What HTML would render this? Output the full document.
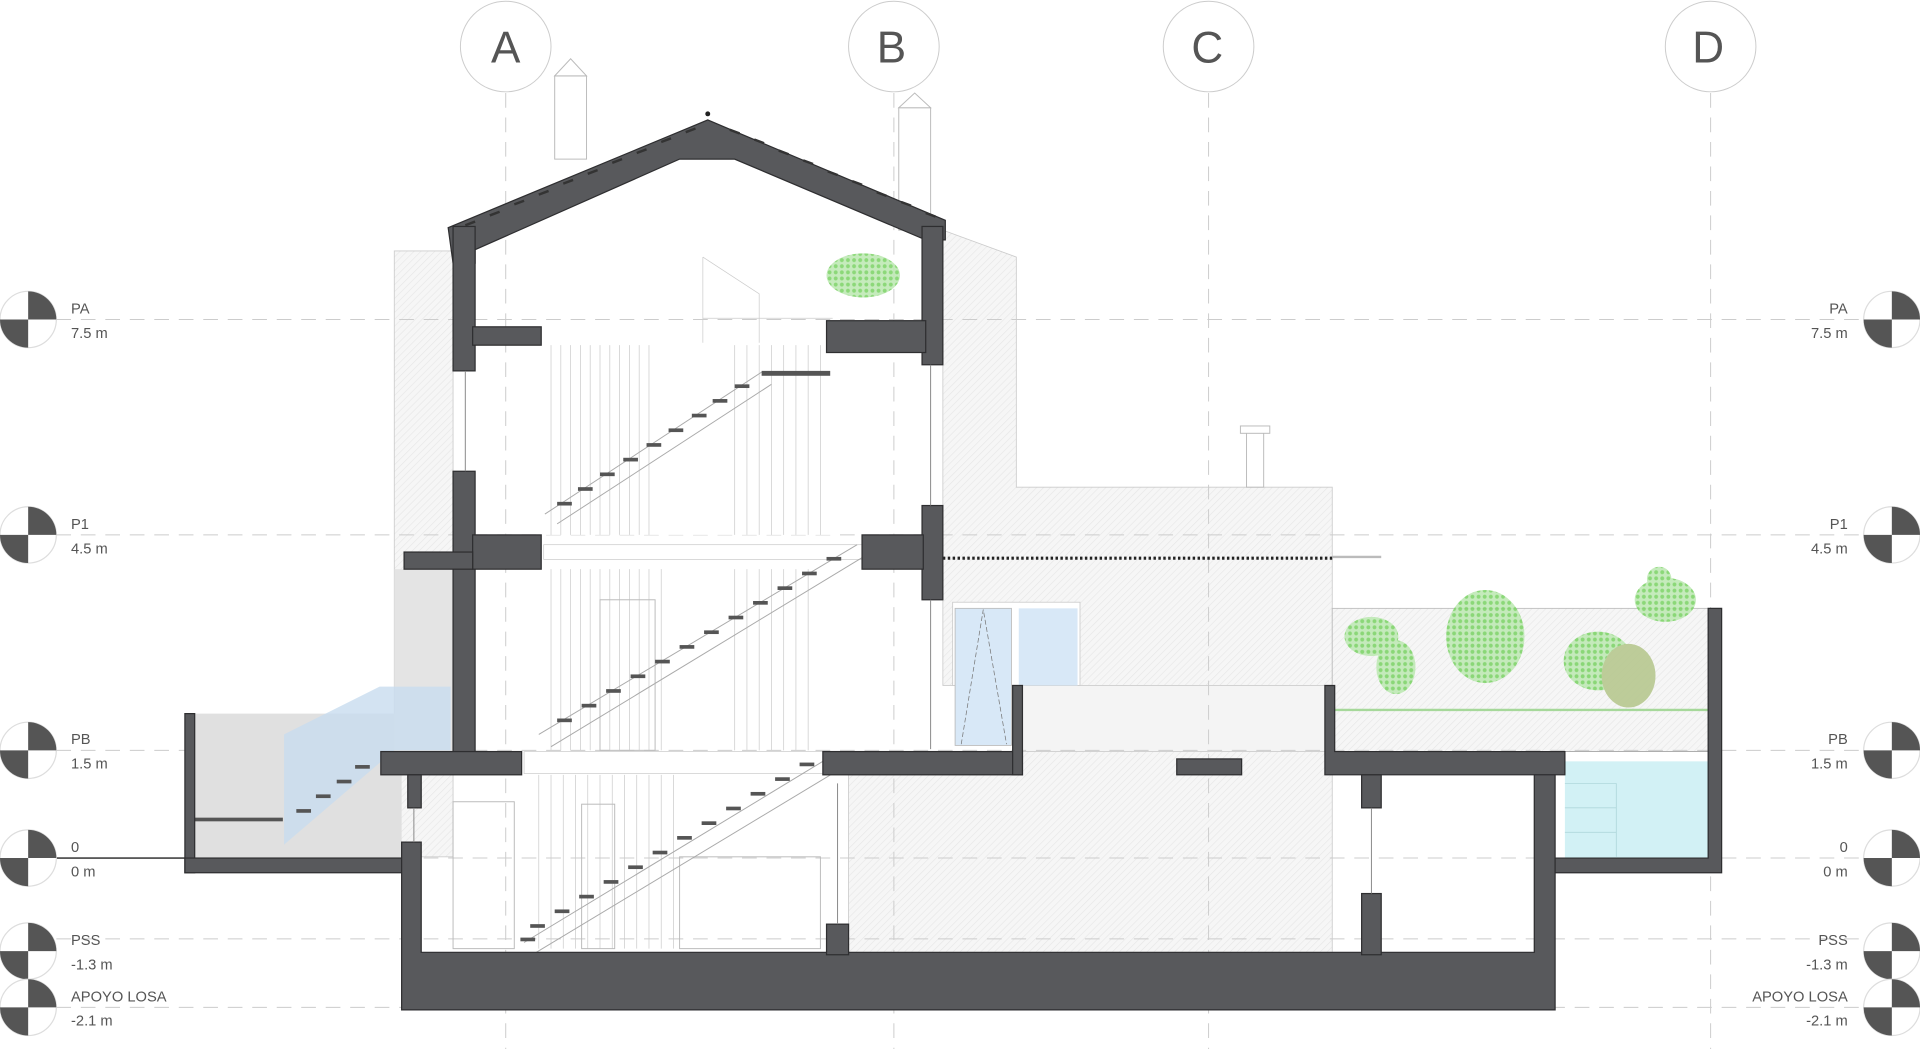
<!DOCTYPE html>
<html><head><meta charset="utf-8"><style>
html,body{margin:0;padding:0;background:#fff;width:1920px;height:1049px;overflow:hidden}
svg{display:block}
text{font-family:"Liberation Sans",sans-serif;fill:#555}
</style></head><body>
<svg width="1920" height="1049" viewBox="0 0 1568 857" preserveAspectRatio="none">
<defs>
<pattern id="h" width="4" height="4" patternUnits="userSpaceOnUse" patternTransform="rotate(45)"><rect width="4" height="4" fill="#f6f6f6"/><line x1="0" y1="0" x2="0" y2="4" stroke="#e6e6e6" stroke-width="1"/></pattern>
<pattern id="g" width="5" height="5" patternUnits="userSpaceOnUse"><rect width="5" height="5" fill="#bfe9b5"/><circle cx="2.5" cy="2.5" r="1.6" fill="#7fd46a"/></pattern>
</defs>
<!-- background facades -->
<rect x="322" y="205" width="48" height="495" fill="url(#h)" stroke="#ccc" stroke-width="0.7"/>
<polygon points="770,188 830,210 830,398 1088,398 1088,780 693,780 693,633 835,633 835,560 770,560" fill="url(#h)" stroke="#ccc" stroke-width="0.7"/>
<rect x="1088" y="497" width="307" height="117" fill="url(#h)" stroke="#bbb" stroke-width="0.7"/>
<rect x="835" y="560" width="247" height="54" fill="#f4f4f4" stroke="#ccc" stroke-width="0.7"/>
<!-- chimneys -->
<g fill="#fff" stroke="#bbb" stroke-width="0.8">
<rect x="453" y="62" width="26" height="68"/><polygon points="453,62 466,48 479,62"/>
<rect x="734" y="88" width="26" height="100"/><polygon points="734,88 747,76 760,88"/>
<rect x="1018" y="352" width="14" height="46"/><rect x="1013" y="348" width="24" height="6"/>
</g>
<!-- grid lines -->
<g stroke="#ccc" stroke-width="0.8" stroke-dasharray="12,8">
<line x1="413" y1="76" x2="413" y2="857"/><line x1="730" y1="76" x2="730" y2="857"/>
<line x1="987" y1="76" x2="987" y2="857"/><line x1="1397" y1="76" x2="1397" y2="857"/>
<line x1="46" y1="261" x2="1522" y2="261"/><line x1="46" y1="437" x2="1522" y2="437"/>
<line x1="46" y1="613" x2="1522" y2="613"/><line x1="46" y1="701" x2="1522" y2="701"/>
<line x1="46" y1="767" x2="1522" y2="767"/><line x1="46" y1="823" x2="1522" y2="823"/>
</g>
<g fill="#fff" stroke="#ccc" stroke-width="0.8">
<circle cx="413" cy="38" r="37"/><circle cx="730" cy="38" r="37"/><circle cx="987" cy="38" r="37"/><circle cx="1397" cy="38" r="37"/>
</g>
<g font-size="36" text-anchor="middle"><text x="413" y="51">A</text><text x="728" y="51">B</text><text x="986" y="51">C</text><text x="1395" y="51">D</text></g>
<!-- interior stair area -->
<rect x="444" y="282" width="235" height="155" fill="#fff"/>
<g stroke="#ccc" stroke-width="0.6" fill="none">
<path d="M450 282V437M458 282V437M466 282V437M474 282V437M482 282V437M490 282V437M498 282V437M506 282V437M514 282V437M522 282V437M530 282V437M600 282V437M610 282V437M620 282V437M630 282V437M640 282V437M650 282V437M660 282V437M670 282V437"/>
<path d="M450 465V613M458 465V613M466 465V613M474 465V613M482 465V613M490 465V613M498 465V613M506 465V613M514 465V613M522 465V613M530 465V613M540 465V613M600 465V613M610 465V613M620 465V613M630 465V613M640 465V613M650 465V613M660 465V613"/>
<path d="M440 633V775M450 633V775M460 633V775M470 633V775M480 633V775M490 633V775M500 633V775M510 633V775M520 633V775M530 633V775M540 633V775M550 633V775"/>
<path d="M574 210V280M574 210L620 240V280M574 260H680"/>
</g>
<rect x="444" y="445" width="262" height="12" fill="#fff" stroke="#ccc" stroke-width="0.6"/>
<rect x="428" y="614" width="245" height="18" fill="#fff" stroke="#ccc" stroke-width="0.6"/>
<g fill="none" stroke="#bbb" stroke-width="0.8">
<rect x="370" y="655" width="50" height="120"/><rect x="475" y="657" width="27" height="118"/><rect x="555" y="700" width="115" height="75"/>
<rect x="490" y="490" width="45" height="123"/>
</g>
<!-- stairs -->
<g stroke="#aaa" stroke-width="0.8" fill="none">
<line x1="445" y1="420" x2="622" y2="304"/><line x1="455" y1="428" x2="630" y2="314"/>
<line x1="440" y1="600" x2="700" y2="445"/><line x1="450" y1="610" x2="705" y2="455"/>
<line x1="428" y1="770" x2="672" y2="622"/><line x1="438" y1="778" x2="680" y2="632"/>
</g>
<g fill="#555">
<rect x="622" y="303" width="56" height="4"/>
<rect x="600" y="314" width="12" height="3"/><rect x="582" y="326" width="12" height="3"/><rect x="565" y="338" width="12" height="3"/><rect x="546" y="350" width="12" height="3"/><rect x="528" y="362" width="12" height="3"/><rect x="509" y="374" width="12" height="3"/><rect x="490" y="386" width="12" height="3"/><rect x="472" y="398" width="12" height="3"/><rect x="455" y="410" width="12" height="3"/>
<rect x="675" y="455" width="12" height="3"/><rect x="655" y="467" width="12" height="3"/><rect x="635" y="479" width="12" height="3"/><rect x="615" y="491" width="12" height="3"/><rect x="595" y="503" width="12" height="3"/><rect x="575" y="515" width="12" height="3"/><rect x="555" y="527" width="12" height="3"/><rect x="535" y="539" width="12" height="3"/><rect x="515" y="551" width="12" height="3"/><rect x="495" y="563" width="12" height="3"/><rect x="475" y="575" width="12" height="3"/><rect x="455" y="587" width="12" height="3"/>
<rect x="653" y="623" width="12" height="3"/><rect x="633" y="635" width="12" height="3"/><rect x="613" y="647" width="12" height="3"/><rect x="593" y="659" width="12" height="3"/><rect x="573" y="671" width="12" height="3"/><rect x="553" y="683" width="12" height="3"/><rect x="533" y="695" width="12" height="3"/><rect x="513" y="707" width="12" height="3"/><rect x="493" y="719" width="12" height="3"/><rect x="473" y="731" width="12" height="3"/><rect x="453" y="743" width="12" height="3"/><rect x="433" y="755" width="12" height="3"/><rect x="425" y="766" width="12" height="3"/>
</g>
<!-- left terrace -->
<rect x="159" y="583" width="169" height="118" fill="#e0e0e0"/>
<rect x="322" y="465" width="48" height="150" fill="#e4e4e4"/>
<polygon points="232,600 310,561 368,561 368,613 322,613 232,690" fill="#c8dcef" opacity="0.8"/>
<rect x="159" y="668" width="72" height="3" fill="#555"/>
<g fill="#555"><rect x="290" y="625" width="12" height="3"/><rect x="275" y="637" width="12" height="3"/><rect x="258" y="649" width="12" height="3"/><rect x="242" y="661" width="12" height="3"/></g>
<line x1="0" y1="701" x2="151" y2="701" stroke="#222" stroke-width="1.2"/>
<!-- blue windows -->
<rect x="778" y="492" width="104" height="68" fill="#fff" stroke="#ccc" stroke-width="0.7"/>
<rect x="780" y="497" width="46" height="112" fill="#d8e8f7" stroke="#bbb" stroke-width="0.7"/>
<rect x="832" y="497" width="48" height="63" fill="#d8e8f7"/>
<polyline points="785,608 803,498 822,608" fill="none" stroke="#777" stroke-width="0.6" stroke-dasharray="4,2"/>
<!-- garden -->
<g fill="url(#g)" opacity="0.9">
<ellipse cx="1120" cy="520" rx="22" ry="16"/><ellipse cx="1140" cy="545" rx="16" ry="22"/>
<ellipse cx="1213" cy="520" rx="32" ry="38"/>
<ellipse cx="1305" cy="540" rx="28" ry="24"/>
<ellipse cx="1330" cy="552" rx="22" ry="26" fill="#b7c890"/>
<ellipse cx="1360" cy="490" rx="25" ry="18"/><ellipse cx="1355" cy="473" rx="10" ry="10"/>
<ellipse cx="705" cy="225" rx="30" ry="18"/>
</g>
<line x1="1090" y1="580" x2="1395" y2="580" stroke="#a6d89a" stroke-width="2"/>
<!-- pool -->
<rect x="1278" y="622" width="117" height="79" fill="#d2f1f5"/>
<g stroke="#b0d8dc" stroke-width="0.7"><line x1="1278" y1="640" x2="1320" y2="640"/><line x1="1278" y1="660" x2="1320" y2="660"/><line x1="1278" y1="680" x2="1320" y2="680"/><line x1="1320" y1="640" x2="1320" y2="700"/></g>
<line x1="1278" y1="614" x2="1395" y2="614" stroke="#aaa" stroke-width="0.7"/>
<!-- dashed beam -->
<line x1="770" y1="456" x2="1088" y2="456" stroke="#222" stroke-width="2.5" stroke-dasharray="2,2"/>
<line x1="1088" y1="455" x2="1128" y2="455" stroke="#bbb" stroke-width="2"/>
<!-- STRUCTURE dark -->
<g fill="#58595c" stroke="#2e2e30" stroke-width="1">
<polygon points="366,186 578,98 772,180 772,196 756,196 600,130 555,130 388,204 388,215 370,215"/>
<rect x="370" y="185" width="18" height="118"/>
<rect x="370" y="385" width="18" height="230"/>
<rect x="753" y="185" width="17" height="113"/>
<rect x="753" y="413" width="17" height="77"/>
<rect x="386" y="267" width="56" height="15"/>
<rect x="675" y="262" width="81" height="26"/>
<rect x="386" y="437" width="56" height="28"/>
<rect x="330" y="451" width="56" height="14"/>
<rect x="704" y="437" width="50" height="28"/>
<rect x="311" y="614" width="115" height="19"/>
<rect x="672" y="614" width="163" height="19"/>
<rect x="827" y="560" width="8" height="73"/>
<rect x="961" y="620" width="53" height="13"/>
<polygon points="1082,560 1090,560 1090,614 1278,614 1278,633 1082,633"/>
<rect x="151" y="583" width="8" height="130"/>
<rect x="151" y="701" width="177" height="12"/>
<polygon points="328,688 344,688 344,778 1253,778 1253,633 1270,633 1270,825 328,825"/>
<polygon points="1270,701 1395,701 1395,497 1406,497 1406,713 1270,713"/>
<rect x="333" y="633" width="11" height="27"/>
<rect x="675" y="755" width="18" height="25"/>
<rect x="1112" y="633" width="16" height="27"/>
<rect x="1112" y="730" width="16" height="50"/>
</g>
<!-- roof tiles -->
<g stroke="#333" stroke-width="2">
<path d="M380 184l8-3M400 176l8-3M420 167l8-3M440 159l8-3M460 150l8-3M480 142l8-3M500 133l8-3M520 125l8-3M540 116l8-3M560 108l8-3"/>
<path d="M596 106l8 3M616 114l8 3M636 123l8 3M656 131l8 3M676 140l8 3M696 148l8 3M716 157l8 3M736 165l8 3M756 174l8 3"/>
</g>
<g fill="#222"><circle cx="578" cy="93" r="2"/></g>
<g stroke="#888" stroke-width="0.8">
<line x1="380" y1="303" x2="380" y2="385"/><line x1="760" y1="298" x2="760" y2="413"/><line x1="760" y1="490" x2="760" y2="612"/>
<line x1="338" y1="660" x2="338" y2="688"/><line x1="684" y1="640" x2="684" y2="755"/><line x1="1120" y1="660" x2="1120" y2="730"/>
</g>
<!-- level markers -->
<g id="lv">
<g transform="translate(23,261)"><circle r="23" fill="#fff" stroke="#ddd"/><path d="M0 0V-23A23 23 0 0 1 23 0Z M0 0V23A23 23 0 0 1 -23 0Z" fill="#555"/></g>
<g transform="translate(23,437)"><circle r="23" fill="#fff" stroke="#ddd"/><path d="M0 0V-23A23 23 0 0 1 23 0Z M0 0V23A23 23 0 0 1 -23 0Z" fill="#555"/></g>
<g transform="translate(23,613)"><circle r="23" fill="#fff" stroke="#ddd"/><path d="M0 0V-23A23 23 0 0 1 23 0Z M0 0V23A23 23 0 0 1 -23 0Z" fill="#555"/></g>
<g transform="translate(23,701)"><circle r="23" fill="#fff" stroke="#ddd"/><path d="M0 0V-23A23 23 0 0 1 23 0Z M0 0V23A23 23 0 0 1 -23 0Z" fill="#555"/></g>
<g transform="translate(23,777)"><circle r="23" fill="#fff" stroke="#ddd"/><path d="M0 0V-23A23 23 0 0 1 23 0Z M0 0V23A23 23 0 0 1 -23 0Z" fill="#555"/></g>
<g transform="translate(23,823)"><circle r="23" fill="#fff" stroke="#ddd"/><path d="M0 0V-23A23 23 0 0 1 23 0Z M0 0V23A23 23 0 0 1 -23 0Z" fill="#555"/></g>
</g>
<use href="#lv" transform="translate(1522,0)"/>
<g font-size="12">
<text x="58" y="256">PA</text><text x="58" y="276">7.5 m</text>
<text x="58" y="432">P1</text><text x="58" y="452">4.5 m</text>
<text x="58" y="608">PB</text><text x="58" y="628">1.5 m</text>
<text x="58" y="696">0</text><text x="58" y="716">0 m</text>
<text x="58" y="772">PSS</text><text x="58" y="792">-1.3 m</text>
<text x="58" y="818">APOYO LOSA</text><text x="58" y="838">-2.1 m</text>
</g>
<g font-size="12" text-anchor="end">
<text x="1509" y="256">PA</text><text x="1509" y="276">7.5 m</text>
<text x="1509" y="432">P1</text><text x="1509" y="452">4.5 m</text>
<text x="1509" y="608">PB</text><text x="1509" y="628">1.5 m</text>
<text x="1509" y="696">0</text><text x="1509" y="716">0 m</text>
<text x="1509" y="772">PSS</text><text x="1509" y="792">-1.3 m</text>
<text x="1509" y="818">APOYO LOSA</text><text x="1509" y="838">-2.1 m</text>
</g>
</svg>
</body></html>
